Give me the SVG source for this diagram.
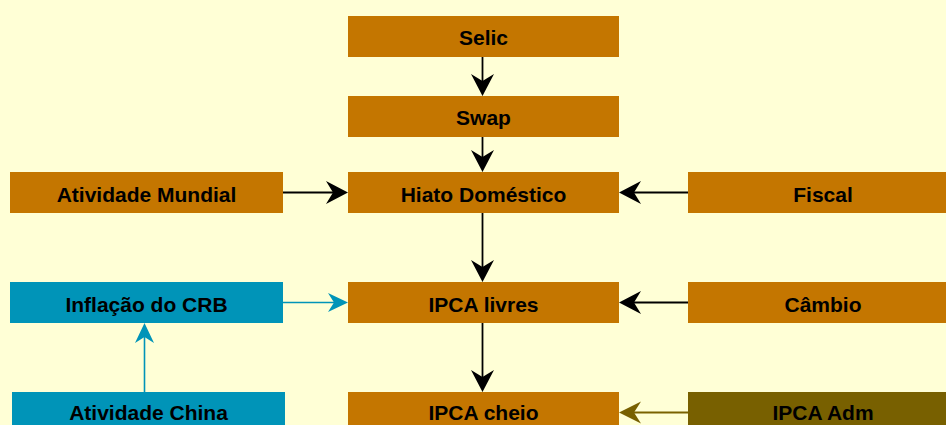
<svg xmlns="http://www.w3.org/2000/svg" width="946" height="425" viewBox="0 0 946 425">
<style>
.bg{fill:#FFFFD6}
.o{fill:#C47600}
.c{fill:#0094B8}
.v{fill:#786000}
text{font-family:"Liberation Sans",Arial,sans-serif;font-weight:bold;font-size:21px;fill:#000;text-anchor:middle}
.k{stroke:#000;stroke-width:1.8;fill:none}
.kc{stroke:#0094B8;stroke-width:1.6;fill:none}
.kv{stroke:#7A6200;stroke-width:2;fill:none}
</style>
<defs>
<marker id="ak" markerUnits="userSpaceOnUse" viewBox="-13 -12 24 24" markerWidth="24" markerHeight="24" refX="0" refY="0" orient="auto"><path d="M10,0 L-12,-11.5 L-5,0 L-12,11.5 Z" fill="#000"/></marker>
<marker id="ac" markerUnits="userSpaceOnUse" viewBox="-13 -12 24 24" markerWidth="24" markerHeight="24" refX="0" refY="0" orient="auto"><path d="M10,0 L-10,-9.5 L-4,0 L-10,9.5 Z" fill="#0094B8"/></marker>
<marker id="av" markerUnits="userSpaceOnUse" viewBox="-13 -12 24 24" markerWidth="24" markerHeight="24" refX="0" refY="0" orient="auto"><path d="M10,0 L-12,-11 L-5,0 L-12,11 Z" fill="#786000"/></marker>
</defs>
<rect class="bg" x="0" y="0" width="946" height="425"/>
<g id="connectors">
<line class="k" x1="482.5" y1="57" x2="482.5" y2="86" marker-end="url(#ak)"/>
<line class="k" x1="482.5" y1="137" x2="482.5" y2="162" marker-end="url(#ak)"/>
<line class="k" x1="482.5" y1="213" x2="482.5" y2="272" marker-end="url(#ak)"/>
<line class="k" x1="482.5" y1="323" x2="482.5" y2="382" marker-end="url(#ak)"/>
<line class="k" x1="283" y1="192.5" x2="338" y2="192.5" marker-end="url(#ak)"/>
<line class="k" x1="688" y1="192.5" x2="629" y2="192.5" marker-end="url(#ak)"/>
<line class="k" x1="688" y1="302.5" x2="629" y2="302.5" marker-end="url(#ak)"/>
<line class="kc" x1="283" y1="302.5" x2="338" y2="302.5" marker-end="url(#ac)"/>
<line class="kc" x1="144.5" y1="392" x2="144.5" y2="333" marker-end="url(#ac)"/>
<line class="kv" x1="688" y1="412.5" x2="629" y2="412.5" marker-end="url(#av)"/>
</g>
<g id="selic"><rect class="o" x="348" y="16" width="271" height="41"/><text x="483.5" y="45">Selic</text></g>
<g id="swap"><rect class="o" x="348" y="96" width="271" height="41"/><text x="483.5" y="125">Swap</text></g>
<g id="hiato"><rect class="o" x="348" y="172" width="271" height="41"/><text x="483.5" y="201.5">Hiato Doméstico</text></g>
<g id="mundial"><rect class="o" x="10" y="172" width="273" height="41"/><text x="146.5" y="201.5">Atividade Mundial</text></g>
<g id="fiscal"><rect class="o" x="688" y="172" width="258" height="41"/><text x="823" y="201.5">Fiscal</text></g>
<g id="crb"><rect class="c" x="10" y="282" width="273" height="41"/><text x="146.5" y="311.5">Inflação do CRB</text></g>
<g id="livres"><rect class="o" x="348" y="282" width="271" height="41"/><text x="483.5" y="311.5">IPCA livres</text></g>
<g id="cambio"><rect class="o" x="688" y="282" width="258" height="41"/><text x="823" y="311.5">Câmbio</text></g>
<g id="china"><rect class="c" x="12" y="392" width="273" height="41"/><text x="148.5" y="420">Atividade China</text></g>
<g id="cheio"><rect class="o" x="348" y="392" width="271" height="41"/><text x="483.5" y="420">IPCA cheio</text></g>
<g id="adm"><rect class="v" x="688" y="392" width="258" height="41"/><text x="823" y="420">IPCA Adm</text></g>
</svg>
